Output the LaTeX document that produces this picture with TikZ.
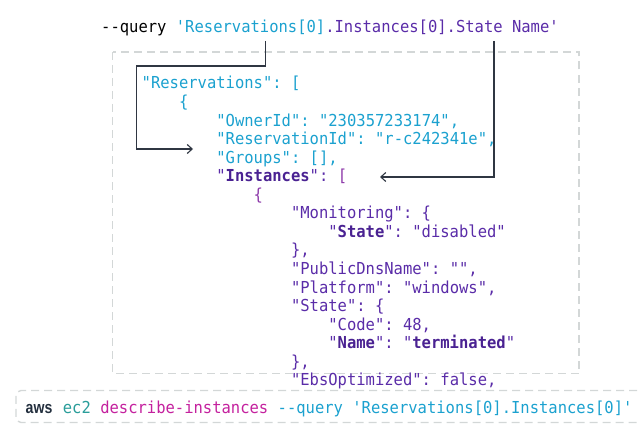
\documentclass[tikz,border=0pt]{standalone}
\usepackage{fontspec}
\setmonofont[FakeStretch=0.94]{DejaVu Sans Mono}
\newfontfamily\awsfont[FakeStretch=0.83]{Liberation Sans}
\usetikzlibrary{arrows.meta}
\definecolor{cq}{HTML}{1BA1CF}
\definecolor{pq}{HTML}{5A2CA8}
\definecolor{pb}{HTML}{4A2292}
\definecolor{mq}{HTML}{8E3BAA}
\definecolor{tealc}{HTML}{2A9D9A}
\definecolor{magc}{HTML}{C4219E}
\definecolor{inkc}{HTML}{232F3E}
\definecolor{boxc}{HTML}{D3D7D7}
\definecolor{linec}{HTML}{2F3642}
\tikzset{
  code/.style={anchor=base west, inner sep=0pt, font=\ttfamily\fontsize{16.5}{18.5}\selectfont},
  frame/.style={draw=boxc, line width=1.4pt, dash pattern=on 8pt off 5pt},
  pointer/.style={draw=linec, line width=1.1pt, -{Straight Barb[length=5pt,width=9pt]}}
}
\newcommand{\B}[1]{\textbf{#1}}
\begin{document}
\begin{tikzpicture}[x=1pt,y=-1pt]
\useasboundingbox (0,0) rectangle (639,425);
% frames
\draw[frame] (112.5,52) rectangle (579,373.5);
\draw[frame, rounded corners=5pt] (650,390.5) -- (16,390.5) -- (16,422.5) -- (650,422.5);
% top query line
\node[code] (q) at (101,33) {\textcolor{black}{--query }\textcolor{cq}{'Reservations[0]}\textcolor{pq}{.Instances[0].State Name'}};
% json lines
\def\bx{141.5}
\def\ind{37.33}
\def\dy{18.55}
\node[code] (l0) at (\bx,89) {\textcolor{cq}{"Reservations": [}};
\node[code] (l1) at ({\bx+\ind},{89+\dy}) {\textcolor{cq}{\{}};
\node[code] (l2) at ({\bx+2*\ind},{89+2*\dy}) {\textcolor{cq}{"OwnerId": "230357233174",}};
\node[code] (l3) at ({\bx+2*\ind},{89+3*\dy}) {\textcolor{cq}{"ReservationId": "r-c242341e",}};
\node[code] (l4) at ({\bx+2*\ind},{89+4*\dy}) {\textcolor{cq}{"Groups": [],}};
\node[code] (l5) at ({\bx+2*\ind},{89+5*\dy}) {\textcolor{pq}{"}\textcolor{pb}{\B{Instances}}\textcolor{pq}{": }\textcolor{mq}{[}};
\node[code] (l6) at ({\bx+3*\ind},{89+6*\dy}) {\textcolor{mq}{\{}};
\node[code] (l7) at ({\bx+4*\ind},{89+7*\dy}) {\textcolor{pq}{"Monitoring": \{}};
\node[code] (l8) at ({\bx+5*\ind},{89+8*\dy}) {\textcolor{pq}{"}\textcolor{pb}{\B{State}}\textcolor{pq}{": "disabled"}};
\node[code] (l9) at ({\bx+4*\ind},{89+9*\dy}) {\textcolor{pq}{\},}};
\node[code] (l10) at ({\bx+4*\ind},{89+10*\dy}) {\textcolor{pq}{"PublicDnsName": "",}};
\node[code] (l11) at ({\bx+4*\ind},{89+11*\dy}) {\textcolor{pq}{"Platform": "windows",}};
\node[code] (l12) at ({\bx+4*\ind},{89+12*\dy}) {\textcolor{pq}{"State": \{}};
\node[code] (l13) at ({\bx+5*\ind},{89+13*\dy}) {\textcolor{pq}{"Code": 48,}};
\node[code] (l14) at ({\bx+5*\ind},{89+14*\dy}) {\textcolor{pq}{"}\textcolor{pb}{\B{Name}}\textcolor{pq}{": "}\textcolor{pb}{\B{terminated}}\textcolor{pq}{"}};
\node[code] (l15) at ({\bx+4*\ind},{89+15*\dy}) {\textcolor{pq}{\},}};
\node[code] (l16) at ({\bx+4*\ind},{89+16*\dy}) {\textcolor{pq}{"EbsOptimized": false,}};
% bottom command
\node[anchor=base west, inner sep=0pt, font=\awsfont\bfseries\fontsize{17}{20}\selectfont, text=inkc] (aws) at (25.5,413) {aws};
\node[code] (cmd) at (62.7,413) {\textcolor{tealc}{ec2} \textcolor{magc}{describe-instances} \textcolor{cq}{--query 'Reservations[0].Instances[0]'}};
% pointers
\coordinate (s1) at (265.7,41);
\coordinate (e1) at (193,149);
\coordinate (s2) at (494,41);
\coordinate (e2) at (380,177);
\draw[pointer] (s1) |- (136.7,66) |- (e1);
\draw[pointer] (s2) |- (e2);
\end{tikzpicture}
\end{document}
